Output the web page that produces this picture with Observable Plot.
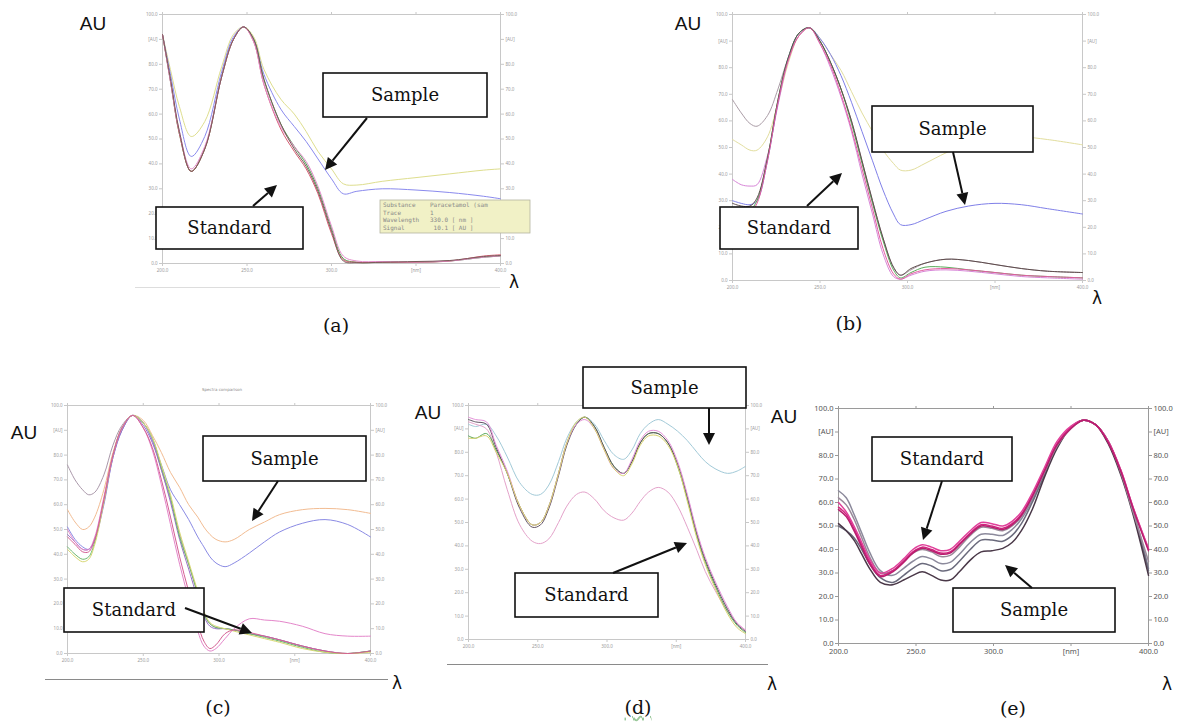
<!DOCTYPE html>
<html><head><meta charset="utf-8">
<script src="https://cdn.jsdelivr.net/npm/d3@7"></script>
<script src="https://cdn.jsdelivr.net/npm/@observablehq/plot@0.6"></script>
<style>
body{margin:0;background:#fff;}
#fig{position:relative;width:1183px;height:725px;overflow:hidden;background:#fff;}
#fig svg.panel{position:absolute;}
.lbl{position:absolute;transform:translate(-50%,-50%);white-space:nowrap;color:#111;}
.au{font-family:"Liberation Sans",Arial,sans-serif;font-size:19px;}
.lam{font-family:"DejaVu Sans",sans-serif;font-size:17px;}
.cap{font-family:"DejaVu Serif",serif;font-size:19px;}
.hline{position:absolute;height:0;}
</style></head><body><div id="fig"></div>
<script>
// ---------- tick values ----------
const xTicks = [200, 250, 300, 350, 400];
const yTicks = [0, 10, 20, 30, 40, 50, 60, 70, 80, 90, 100];

// ---------- panel (a) ----------
const wlA = [200,205,210,217,225,235,242,248,254,260,270,278,285,292,300,307,315,330,350,370,390,400];
const aYellow = [92,77,63,51,57,79,92,95,91,78,66,60,53,45,38,32,31.5,33,34.5,36,37.5,38];
const aBlue   = [92,75,58,43,51,77,91,95,90,76,62,55,49,42,34,28,29,30,29.5,28.5,27,26];
const aGreen  = [92,72,52,37,46,75,90,95,90,74,56,47,40,30,14,2,0.5,0.5,0.5,1,2.5,3];
const aRed    = [92,72,52,37,46,75,90,95,89,72,54,45,38,28,12,1.5,0.5,0.5,0.5,1,3,3.5];
const aPink   = [92,72,53,38,47,75,90,95,89,72,55,47,41,31,15,3,1,0.8,0.6,1,2.5,3];
const aDark   = [92,73,53,37,46,75,90,95,90,74,56,46,39,29,13,1,0.3,0.5,0.8,1.2,2.8,3.2];
const namesA  = ["Sample 1","Sample 2","Standard 1","Standard 2","Standard 3","Standard 4"];
const colorsA = ["#dede8e","#8a8aee","#4aa64e","#d65a70","#e48ccc","#7a5a5a"];

// ---------- panel (b) ----------
const wlB = [200,205,210,214,220,226,232,238,244,250,256,262,268,274,280,286,292,296,302,310,322,335,350,365,380,400];
const bGray    = [68,63,59,58,62,72,84,92,95,90,82,72,60,45,30,16,5,2,4,6.5,8,7.5,6,4.5,3.5,3];
const bYellow  = [53,51,49,49,54,67,82,92,95,91,85,79,71,63,56,49,44,41.5,41.5,44,48,51.5,53.5,54,53,51];
const bPink    = [38,36,35.5,36,47,66,83,92,95,89,80,69,56,40,25,10,1.5,0.5,2,3.5,4,3.5,2.5,1.5,1,0.5];
const bBlue    = [30,29,28.5,30,45,67,84,93,95,91,85,77,67,56,45,34,25,21,21,23,26,28,29,28.5,27,25];
const bGreen   = [27,26,26.5,30,46,68,84,93,95,90,82,72,59,44,29,15,4,1,3,5,5,4,3,2,1.5,1];
const bDark    = [29,28,28,31,46,68,84,93,95,90,82,72,60,45,30,16,5,2,4.5,6.5,8,7.5,6,4.5,3.5,3];
const bMagenta = [26,25,25.5,29,45,67,83,92,95,89,81,70,57,42,27,12,2.5,0.5,2.5,4,4.5,4,3,2,1.5,1];
const namesB  = ["Standard 1","Sample 1","Standard 2","Sample 2","Standard 3","Standard 4","Standard 5"];
const colorsB = ["#aa9ca6","#e2de9e","#d886d8","#8080e8","#5aaa5a","#5e4c4c","#e25ca0"];

// ---------- panel (c) ----------
const wlC = [200,205,210,214,218,224,230,236,243,250,256,262,268,274,280,286,290,294,298,304,310,320,330,340,355,370,385,400];
const cGray    = [76,70,66,64,65,72,84,92,96,93,86,74,62,48,36,24,16,12,10.5,10,9.5,8,7,5.5,3,1,0,1];
const cOrange  = [58,53,50,51,55,66,81,91,96,94,88,81,73,67,60,55,51,48,46,45,46,50,53,56,58,58.5,58,56.5];
const cBlue    = [51,46,43,42,46,60,79,90,96,93,86,76,66,60,54,47,43,39,36.5,35,36.5,40.5,45,49,52.5,54,52,47];
const cPurple  = [48,45,42,42,46,61,79,90,96,92,85,74,61,46,34,22,15,11,10,10,9.5,8,7,5.5,3,1,0,1];
const cGreen   = [43,40,38,39,45,62,80,91,96,93,87,75,63,47,36,24,16,12,10.5,10,9.5,8,6.5,5,2.5,0.5,0,1];
const cYellow  = [42,39,37,38,44,61,80,91,96,93,87,76,64,49,37,25,17,12.5,11,10,9,7.5,6,4.5,2,0.5,0,0.5];
const cPink    = [50,45,42,42,47,63,80,91,96,91,82,68,52,36,22,9,3,1,2,6,10,14,13.5,13,11,8,7,7];
const cMagenta = [47,44,41,41,46,62,80,91,96,91,83,70,55,39,25,12,5,2,3.5,8,9.5,8.5,7,5.5,3,1,0,1];
const namesC  = ["Standard 1","Sample 1","Sample 2","Standard 2","Standard 3","Standard 4","Standard 5","Standard 6"];
const colorsC = ["#aa98aa","#f2bc92","#8a8ae4","#9a70c8","#6ab66a","#d8d874","#e486ca","#d45e92"];

// ---------- panel (d) ----------
const wlD = [200,205,213,220,228,237,246,252,258,265,271,278,284,291,298,305,312,318,324,330,337,344,351,358,365,371,378,387,394,400];
const dCyan    = [92,91,92,87,78,67,62,62,66,76,86,93,95,92,85,79,77,81,88,92,94,92,89,85,80,76,73,71,72,74];
const dPinkLow = [93,92,90,80,64,49,42,41,43,50,57,62,63,60,55,52,51,54,59,63,65,63,57,48,38,29,21,12,7,4];
const dGreen   = [87,86,88,81,71,57,49,50,57,71,84,92,95,91,82,74,71,76,84,88,88,84,74,60,44,33,23,12,6,3];
const dDark    = [94,93,92,82,71,56,48,49,56,70,83,92,95,91,82,74,71,76,84,88,88,84,75,61,45,34,24,13,6.5,3.5];
const dPink    = [95,94,93,83,72,57,49,50,57,71,84,92,94,90,81,73,71,77,85,89,89,85,76,62,46,35,25,14,7,4];
const dYellow  = [86,86,87,80,71,57,49,50,57,71,84,93,95,90,81,73,70,75,83,87,87,83,74,59,43,32,22,11,5,2.5];
const namesD  = ["Sample 1","Standard 1","Standard 2","Standard 3","Standard 4","Standard 5"];
const colorsD = ["#a2cad8","#e4a2ca","#56a656","#625262","#e490d8","#d8d26e"];

// ---------- panel (e) ----------
const wlE = [200,205,210,215,220,227,235,242,248,254,260,266,272,278,285,292,299,306,312,318,325,333,341,350,358,366,374,382,390,400];
const eS1   = [65,62,55,47,39,31,29,32,35,37,36,34,34.5,38,43,46.5,46.5,46,48.5,53,61,73,84,92,95,93,86,73,57,32];
const eS2   = [50,48,45,40,34,28,26,29,32,34,33,31,31.5,35,40,44,44,43.5,46,51,60,72,84,92,95,93,86,73,56,31];
const eS3   = [51,48,44,38,32,26,25,27,29,30.5,29,27,27,30.5,35.5,39,39.5,40.5,43,48,57,71,83,92,95,93,85,72,55,29];
const eStdG = [62,59,53,45,37,30,31,35,38.5,40,39,37,37.5,41,46,49.5,49,48,50,54,62,73,84,91.5,95,93,86,73,56,35];
const eMag1 = [58,55,49,42,35,29,31,35,39,41,40,38.5,39,42.5,47,50.5,50,49,51,55,63,74,85,92,95,93,86,74,58,40];
const eMag2 = [60,56,50,43,36,30,32,36,40,42,41,39.5,40,43.5,48,51.5,51,50,52,56,64,75,86,92.5,95,93,86,74,58,40.5];
const eMag3 = [57,54,48,41,34,28.5,30.5,34.5,38.5,40.5,39.5,38,38.5,42,46.5,50,49.5,48.5,50.5,54.5,62.5,73.5,84.5,91.5,95,93,85.5,73.5,57.5,39.5];
const namesE  = ["Sample 1","Sample 2","Sample 3","Standard 1","Standard 2","Standard 3","Standard 4"];
const colorsE = ["#8c8a9c","#6a6a7c","#4a3848","#9a8a9a","#d4237f","#e0409a","#b81e6e"];

// ---------- build rows ----------
function rows(wl, series, names) {
  return series.flatMap((vals, i) => wl.map((w, j) => ({wl: w, v: vals[j], s: names[i]})));
}

const panels = [
  {frame: [162, 14, 500, 263], data: rows(wlA, [aYellow, aBlue, aGreen, aRed, aPink, aDark], namesA), names: namesA, colors: colorsA, fs: 4.5, tc: "#999", fc: "#c8c8c8", sw: 1},
  {frame: [732, 14, 1082, 280], data: rows(wlB, [bGray, bYellow, bPink, bBlue, bGreen, bDark, bMagenta], namesB), names: namesB, colors: colorsB, fs: 4.5, tc: "#999", fc: "#c8c8c8", sw: 1},
  {frame: [67, 405, 370, 653], data: rows(wlC, [cGray, cOrange, cBlue, cPurple, cGreen, cYellow, cPink, cMagenta], namesC), names: namesC, colors: colorsC, fs: 4.5, tc: "#999", fc: "#c8c8c8", sw: 1},
  {frame: [468, 405, 745, 639], data: rows(wlD, [dCyan, dPinkLow, dGreen, dDark, dPink, dYellow], namesD), names: namesD, colors: colorsD, fs: 4.5, tc: "#999", fc: "#c8c8c8", sw: 1},
  {frame: [838, 408, 1148, 643], data: rows(wlE, [eS1, eS2, eS3, eStdG, eMag1, eMag2, eMag3], namesE), names: namesE, colors: colorsE, fs: 7.5, tc: "#555", fc: "#9a9a9a", sw: 1.5}
];

const fmtX = d => d === 350 ? "[nm]" : d.toFixed(1);
const fmtY = d => d === 90 ? "[AU]" : d.toFixed(1);
const fig = document.getElementById("fig");

for (const p of panels) {
  const [fx0, fy0, fx1, fy1] = p.frame;
  const ml = 42, mr = 42, mt = 8, mb = 20;
  const svg = Plot.plot({
    width: (fx1 - fx0) + ml + mr,
    height: (fy1 - fy0) + mt + mb,
    marginLeft: ml, marginRight: mr, marginTop: mt, marginBottom: mb,
    style: {background: "transparent", overflow: "visible"},
    x: {domain: [200, 400]},
    y: {domain: [0, 100]},
    color: {domain: p.names, range: p.colors},
    marks: [
      Plot.frame({stroke: p.fc}),
      Plot.axisX(xTicks, {anchor: "bottom", tickSize: 3, tickPadding: 2, fontSize: p.fs, fill: p.tc, stroke: p.fc, tickFormat: fmtX, label: null}),
      Plot.axisX(xTicks, {anchor: "top", tickSize: 3, stroke: p.fc, tickFormat: () => "", label: null}),
      Plot.axisY(yTicks, {anchor: "left", tickSize: 3, tickPadding: 2, fontSize: p.fs, fill: p.tc, stroke: p.fc, tickFormat: fmtY, label: null}),
      Plot.axisY(yTicks, {anchor: "right", tickSize: 3, tickPadding: 2, fontSize: p.fs, fill: p.tc, stroke: p.fc, tickFormat: fmtY, label: null}),
      Plot.line(p.data, {x: "wl", y: "v", stroke: "s", strokeWidth: p.sw, curve: "catmull-rom"})
    ]
  });
  svg.classList.add("panel");
  svg.style.left = (fx0 - ml) + "px";
  svg.style.top = (fy0 - mt) + "px";
  fig.appendChild(svg);
}

// ---------- figure labels ----------
const auLabels = [[93, 24], [688, 24], [24, 433], [428, 413], [784, 417]];
const lamLabels = [[514, 282], [1097, 298], [397, 683], [772, 684], [1167, 684]];
const captions = [["(a)", 336, 325], ["(b)", 849, 323], ["(c)", 218, 707], ["(d)", 638, 707], ["(e)", 1013, 708]];
const axisLines = [[135, 500, 287, "#dddddd", 1], [45, 388, 679, "#8a8a8a", 1.5], [447, 768, 664, "#8a8a8a", 1.5]];

function addLabel(text, x, y, cls, extra) {
  const d = document.createElement("div");
  d.className = "lbl " + cls;
  d.textContent = text;
  d.style.left = x + "px"; d.style.top = y + "px";
  if (extra) Object.assign(d.style, extra);
  fig.appendChild(d);
}
for (const [x, y] of auLabels) addLabel("AU", x, y, "au");
for (const [x, y] of lamLabels) addLabel("λ", x, y, "lam");
for (const [t, x, y] of captions) addLabel(t, x, y, "cap", t === "(d)" ? {textDecoration: "underline wavy #9ac89a"} : null);
addLabel("Spectra comparison", 222, 389, "", {fontFamily: "DejaVu Sans", fontSize: "4px", color: "#888"});
for (const [x0, x1, y, c, w] of axisLines) {
  const d = document.createElement("div");
  d.className = "hline";
  Object.assign(d.style, {left: x0 + "px", top: y + "px", width: (x1 - x0) + "px", borderTop: w + "px solid " + c});
  fig.appendChild(d);
}

// ---------- annotation overlay (boxes + arrows) ----------
const boxes = [
  ["Sample", 323, 73, 164, 44], ["Standard", 156, 207, 147, 42],
  ["Sample", 872, 106, 161, 46], ["Standard", 720, 207, 138, 42],
  ["Sample", 203, 436, 163, 45], ["Standard", 64, 588, 140, 44],
  ["Sample", 583, 367, 163, 41], ["Standard", 515, 573, 143, 44],
  ["Standard", 872, 437, 140, 44], ["Sample", 953, 588, 162, 44]
];
const arrows = [
  [367, 118, 325, 170], [253, 206, 277, 185],
  [953, 152, 965, 205], [807, 206, 842, 173],
  [278, 481, 252, 521], [185, 608, 252, 633],
  [709, 408, 709, 445], [613, 573, 687, 543],
  [942, 481, 923, 540], [1032, 588, 1005, 565]
];
const tipLines = ["Substance    Paracetamol (sam", "Trace        1", "Wavelength   330.0 [ nm ]", "Signal        10.1 [ AU ]"];

const ov = d3.select(fig).append("svg")
  .attr("width", 1183).attr("height", 725)
  .style("position", "absolute").style("left", 0).style("top", 0);

// tooltip of panel (a)
const tip = ov.append("g");
tip.append("rect").attr("x", 380).attr("y", 200).attr("width", 150).attr("height", 33)
  .attr("fill", "#f1f1c6").attr("stroke", "#b4b4a0").attr("stroke-width", 0.8);
tipLines.forEach((t, i) => tip.append("text").attr("x", 383).attr("y", 207 + i * 7.5)
  .attr("font-family", "DejaVu Sans Mono").attr("font-size", 6).attr("fill", "#888")
  .attr("xml:space", "preserve").style("white-space", "pre").text(t));

for (const [t, x, y, w, h] of boxes) {
  ov.append("rect").attr("x", x).attr("y", y).attr("width", w).attr("height", h)
    .attr("fill", "#fff").attr("stroke", "#111").attr("stroke-width", 1.6);
  ov.append("text").attr("x", x + w / 2).attr("y", y + h / 2 + 1)
    .attr("text-anchor", "middle").attr("dominant-baseline", "middle")
    .attr("font-family", "DejaVu Serif").attr("font-size", 18).attr("fill", "#111").text(t);
}
for (const [x1, y1, x2, y2] of arrows) {
  const a = Math.atan2(y2 - y1, x2 - x1), hl = 12, hw = 6;
  const bx = x2 - hl * Math.cos(a), by = y2 - hl * Math.sin(a);
  ov.append("line").attr("x1", x1).attr("y1", y1).attr("x2", bx).attr("y2", by)
    .attr("stroke", "#111").attr("stroke-width", 2);
  const px = -Math.sin(a) * hw, py = Math.cos(a) * hw;
  ov.append("polygon").attr("points", `${x2},${y2} ${bx + px},${by + py} ${bx - px},${by - py}`).attr("fill", "#111");
}
</script>
</body></html>
